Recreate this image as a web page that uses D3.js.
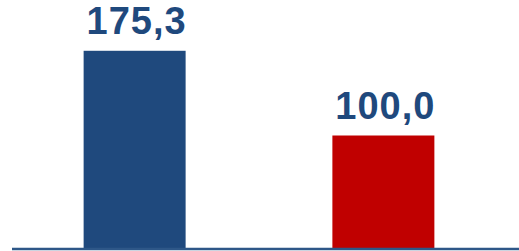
<!DOCTYPE html>
<html>
<head>
<meta charset="utf-8">
<script src="https://cdn.jsdelivr.net/npm/d3@7.9.0/dist/d3.min.js"></script>
<style>
  html, body { margin: 0; padding: 0; background: #fff; }
  svg { display: block; }
</style>
</head>
<body>
<script>
// chart data
const categories = ["A", "B"];
const values = [175.3, 100.0];
const barColors = ["#1F497D", "#C00000"];

const width = 519, height = 251;

const svg = d3.select("body").append("svg")
    .attr("width", width)
    .attr("height", height);

const x = d3.scaleBand()
    .domain(categories)
    .range([9, 509])
    .paddingInner(0.59)
    .paddingOuter(0.3);

const y = d3.scaleLinear()
    .domain([0, 200])
    .range([248, 23]);

const fmt = d => d3.format(".1f")(d).replace(".", ",");

// bars
svg.selectAll("rect.bar")
    .data(values)
    .enter()
    .append("rect")
    .attr("class", "bar")
    .attr("x", (d, i) => x(categories[i]))
    .attr("y", d => y(d))
    .attr("width", x.bandwidth())
    .attr("height", d => y(0) - y(d))
    .attr("fill", (d, i) => barColors[i]);

// value labels
svg.selectAll("text.label")
    .data(values)
    .enter()
    .append("text")
    .attr("class", "label")
    .attr("x", (d, i) => x(categories[i]) + x.bandwidth() / 2 + 2)
    .attr("y", d => y(d) - 17)
    .attr("text-anchor", "middle")
    .style("font-family", "Liberation Sans, Arial, sans-serif")
    .style("font-weight", "bold")
    .style("font-size", "38px")
    .style("letter-spacing", "1px")
    .style("fill", "#1F497D")
    .text(d => fmt(d));

// baseline
svg.append("line")
    .attr("x1", 12)
    .attr("x2", width)
    .attr("y1", y(0) + 1)
    .attr("y2", y(0) + 1)
    .attr("stroke", "#2E5788")
    .attr("stroke-width", 2.5);
</script>
</body>
</html>
